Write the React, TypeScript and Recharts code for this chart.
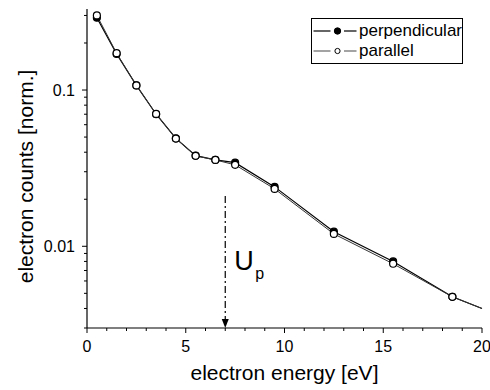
import React from "react";
import {
  LineChart,
  Line,
  XAxis,
  YAxis,
  Legend,
  ReferenceLine,
} from "recharts";

const energy = [0.5, 1.5, 2.5, 3.5, 4.5, 5.5, 6.5, 7.5, 9.5, 12.5, 15.5, 18.5, 20];
const perpendicular = [0.29, 0.17, 0.107, 0.07, 0.049, 0.038, 0.0357, 0.0343, 0.024, 0.0124, 0.008, 0.00475, 0.004];
const parallel = [0.3, 0.172, 0.107, 0.0703, 0.0489, 0.0379, 0.0357, 0.0332, 0.0233, 0.012, 0.00773, 0.00475, 0.004];

const xTicks = [0, 1, 2, 3, 4, 5, 6, 7, 8, 9, 10, 11, 12, 13, 14, 15, 16, 17, 18, 19, 20];
const yTicks = [0.003, 0.004, 0.005, 0.006, 0.007, 0.008, 0.009, 0.01, 0.02, 0.03, 0.04, 0.05, 0.06, 0.07, 0.08, 0.09, 0.1, 0.2, 0.3];
const yLabels: Record<string, string> = { "0.01": "0.01", "0.1": "0.1" };
const upEnergy = 7;

const data = energy.map((e, i) => ({
  energy: e,
  perpendicular: perpendicular[i],
  parallel: parallel[i],
}));

const font = "'Liberation Sans', Arial, sans-serif";

const isDecade = (v: number) => Math.abs(Math.log10(v) - Math.round(Math.log10(v))) < 1e-6;

const BottomTick = ({ x, y, payload }: any) => {
  const major = payload.value % 5 === 0;
  return (
    <g>
      <line x1={x} x2={x} y1={y} y2={y + (major ? 5 : 3)} stroke="#000" strokeWidth={1} />
      {major && (
        <text x={x} y={y + 24} textAnchor="middle" fontSize={16} fontFamily={font} fill="#000">
          {payload.value}
        </text>
      )}
    </g>
  );
};

const TopTick = ({ x, y, payload }: any) => {
  const major = payload.value % 5 === 0;
  return <line x1={x} x2={x} y1={y} y2={y + (major ? 5 : 3)} stroke="#000" strokeWidth={1} />;
};

const LeftTick = ({ x, y, payload }: any) => {
  const major = isDecade(payload.value);
  return (
    <g>
      <line x1={x} x2={x - (major ? 5 : 3)} y1={y} y2={y} stroke="#000" strokeWidth={1} />
      {major && (
        <text x={x - 12} y={y + 6} textAnchor="end" fontSize={16} fontFamily={font} fill="#000">
          {yLabels[String(payload.value)]}
        </text>
      )}
    </g>
  );
};

const RightTick = ({ x, y, payload }: any) => {
  const major = isDecade(payload.value);
  return <line x1={x} x2={x - (major ? 5 : 3)} y1={y} y2={y} stroke="#000" strokeWidth={1} />;
};

const makeDot = (filled: boolean) => (props: any) => {
  const { cx, cy, payload, index } = props;
  if (payload.energy >= 20) return <g key={index} />;
  return (
    <circle
      key={index}
      cx={cx}
      cy={cy}
      r={3.5}
      fill={filled ? "#000" : "#fff"}
      stroke="#000"
      strokeWidth={1.2}
    />
  );
};

const UpMarker = (props: any) => {
  const { x1, y1, x2, y2 } = props;
  return (
    <g>
      <line x1={x1} y1={y1} x2={x2} y2={y2 - 6} stroke="#000" strokeWidth={1.2} strokeDasharray="7 3 2 3" />
      <polygon points={`${x2 - 3.5},${y2 - 9} ${x2 + 3.5},${y2 - 9} ${x2},${y2}`} fill="#000" />
      <text x={x1 + 9} y={y1 + 74} fontSize={27} fontFamily={font} fill="#000">
        U
      </text>
      <text x={x1 + 30} y={y1 + 83} fontSize={16} fontFamily={font} fill="#000">
        p
      </text>
    </g>
  );
};

const LegendBox = () => {
  const rows = [
    { name: "perpendicular", filled: true, color: "#000" },
    { name: "parallel", filled: false, color: "#666" },
  ];
  return (
    <div
      style={{
        border: "1px solid #000",
        background: "#fff",
        width: 150,
        padding: "2px 0 2px 0",
        fontFamily: font,
        fontSize: 17,
        lineHeight: "20px",
      }}
    >
      {rows.map((r) => (
        <div key={r.name} style={{ display: "flex", alignItems: "center", height: 20 }}>
          <svg width={47} height={20} style={{ display: "block" }}>
            <line x1={1.5} x2={18.5} y1={10} y2={10} stroke={r.color} strokeWidth={1.2} />
            <line x1={32} x2={44.5} y1={10} y2={10} stroke={r.color} strokeWidth={1.2} />
            <circle
              cx={25.5}
              cy={10}
              r={r.filled ? 3.2 : 2.6}
              fill={r.filled ? "#000" : "#fff"}
              stroke="#000"
              strokeWidth={1}
            />
          </svg>
          <span style={{ color: "#000" }}>{r.name}</span>
        </div>
      ))}
    </div>
  );
};

export default function App() {
  return (
    <div style={{ position: "absolute", left: 0, top: 0, background: "#fff" }}>
      <LineChart width={490} height={390} data={data} margin={{ top: 9, right: 8, bottom: 0, left: 0 }}>
        <XAxis
          dataKey="energy"
          type="number"
          domain={[0, 20]}
          ticks={xTicks}
          interval={0}
          height={62}
          tickSize={0}
          tickMargin={0}
          tickLine={false}
          tick={<BottomTick />}
          axisLine={{ stroke: "#000", strokeWidth: 1.2 }}
          label={{
            content: ({ viewBox }: any) => (
              <text
                x={viewBox.x + viewBox.width / 2}
                y={viewBox.y + 52}
                textAnchor="middle"
                fontSize={21}
                fontFamily={font}
                fill="#000"
              >
                electron energy [eV]
              </text>
            ),
          }}
        />
        <XAxis
          xAxisId="top"
          dataKey="energy"
          type="number"
          orientation="top"
          domain={[0, 20]}
          ticks={xTicks}
          interval={0}
          height={0}
          tickSize={0}
          tickMargin={0}
          tickLine={false}
          tick={<TopTick />}
          axisLine={{ stroke: "#000", strokeWidth: 1.2 }}
        />
        <YAxis
          type="number"
          scale="log"
          domain={[0.003, 0.33]}
          allowDataOverflow
          ticks={yTicks}
          interval={0}
          width={87}
          tickSize={0}
          tickMargin={0}
          tickLine={false}
          tick={<LeftTick />}
          axisLine={{ stroke: "#000", strokeWidth: 1.2 }}
          label={{
            content: ({ viewBox }: any) => (
              <text
                x={33}
                y={viewBox.y + viewBox.height / 2 + 8}
                transform={`rotate(-90 33 ${viewBox.y + viewBox.height / 2 + 8})`}
                textAnchor="middle"
                fontSize={21}
                fontFamily={font}
                fill="#000"
              >
                electron counts [norm.]
              </text>
            ),
          }}
        />
        <YAxis
          yAxisId="right"
          orientation="right"
          type="number"
          scale="log"
          domain={[0.003, 0.33]}
          allowDataOverflow
          ticks={yTicks}
          interval={0}
          width={0}
          tickSize={0}
          tickMargin={0}
          tickLine={false}
          tick={<RightTick />}
          axisLine={{ stroke: "#000", strokeWidth: 1.2 }}
        />
        <ReferenceLine
          segment={[
            { x: upEnergy, y: 0.021 },
            { x: upEnergy, y: 0.003 },
          ]}
          shape={<UpMarker />}
          ifOverflow="visible"
        />
        <Line
          type="linear"
          dataKey="perpendicular"
          stroke="#000"
          strokeWidth={1.2}
          dot={makeDot(true)}
          isAnimationActive={false}
        />
        <Line
          type="linear"
          dataKey="parallel"
          stroke="#333"
          strokeWidth={1}
          dot={makeDot(false)}
          isAnimationActive={false}
        />
        <Legend
          layout="vertical"
          align="center"
          verticalAlign="middle"
          content={<LegendBox />}
          wrapperStyle={{ position: "absolute", left: 311, top: 18, width: 152 }}
        />
      </LineChart>
    </div>
  );
}
